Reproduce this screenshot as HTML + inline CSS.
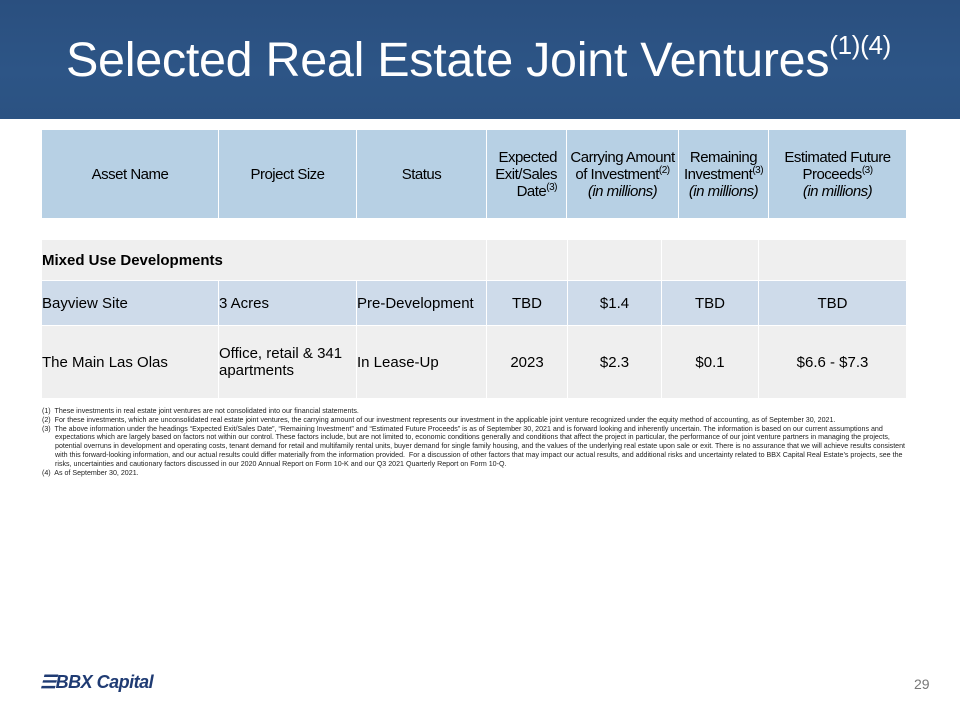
<!DOCTYPE html>
<html><head><meta charset="utf-8"><style>
*{margin:0;padding:0;box-sizing:border-box}
body{width:960px;height:720px;position:relative;background:#fff;font-family:"Liberation Sans",Arial,sans-serif;overflow:hidden;color:#000}
#ban{position:absolute;left:0;top:0;width:960px;height:119px;background:linear-gradient(180deg,#2a4f7f 0%,#2d5586 60%,#2b5282 100%)}
#ban h1{position:absolute;left:66px;top:30px;font-weight:normal;color:#fff;font-size:48.5px;letter-spacing:-0.3px;white-space:nowrap}
#ban h1 sup{font-size:26px;vertical-align:22px}
.c{position:absolute;display:flex;align-items:center;font-size:15px;line-height:17px}
.h{background:#b7d0e4;justify-content:center;text-align:center;white-space:nowrap;letter-spacing:-0.5px}
.g{background:#efefef}
.b{background:#cedbea}
.ctr{justify-content:center}
sup.s{font-size:10px;vertical-align:6px;line-height:0}
#fn{position:absolute;left:42px;top:407px;width:866px;font-size:7.1px;line-height:8.8px;color:#222}
#fn div{padding-left:13px;text-indent:-13px}
#logo{position:absolute;left:40px;top:672px;font-size:18px;font-weight:bold;font-style:italic;color:#1f3b73;letter-spacing:-0.5px}
#pg{position:absolute;left:914px;top:676px;font-size:14px;color:#777}
</style></head><body>
<div id="ban"><h1>Selected Real Estate Joint Ventures<sup>(1)(4)</sup></h1></div>

<div class="c h" style="left:42px;top:130px;width:176px;height:88px">Asset Name</div>
<div class="c h" style="left:219px;top:130px;width:137px;height:88px">Project Size</div>
<div class="c h" style="left:357px;top:130px;width:129px;height:88px">Status</div>
<div class="c h" style="left:487px;top:130px;width:79px;height:88px;justify-content:flex-end;text-align:right;padding-right:9px"><div>Expected<br>Exit/Sales<br>Date<sup class="s">(3)</sup></div></div>
<div class="c h" style="left:567px;top:130px;width:111px;height:88px"><div>Carrying Amount<br>of Investment<sup class="s">(2)</sup><br><i>(in millions)</i></div></div>
<div class="c h" style="left:679px;top:130px;width:89px;height:88px"><div>Remaining<br>Investment<sup class="s">(3)</sup><br><i>(in millions)</i></div></div>
<div class="c h" style="left:769px;top:130px;width:137px;height:88px"><div>Estimated Future<br>Proceeds<sup class="s">(3)</sup><br><i>(in millions)</i></div></div>

<div class="c g" style="left:42px;top:240px;width:444px;height:40px;font-weight:bold">Mixed Use Developments</div>
<div class="c g" style="left:487px;top:240px;width:80px;height:40px"></div>
<div class="c g" style="left:568px;top:240px;width:93px;height:40px"></div>
<div class="c g" style="left:662px;top:240px;width:96px;height:40px"></div>
<div class="c g" style="left:759px;top:240px;width:147px;height:40px"></div>

<div class="c b" style="left:42px;top:281px;width:176px;height:44px">Bayview Site</div>
<div class="c b" style="left:219px;top:281px;width:137px;height:44px">3 Acres</div>
<div class="c b" style="left:357px;top:281px;width:129px;height:44px">Pre-Development</div>
<div class="c b ctr" style="left:487px;top:281px;width:80px;height:44px">TBD</div>
<div class="c b ctr" style="left:568px;top:281px;width:93px;height:44px">$1.4</div>
<div class="c b ctr" style="left:662px;top:281px;width:96px;height:44px">TBD</div>
<div class="c b ctr" style="left:759px;top:281px;width:147px;height:44px">TBD</div>

<div class="c g" style="left:42px;top:326px;width:176px;height:72px">The Main Las Olas</div>
<div class="c g" style="left:219px;top:326px;width:137px;height:72px">Office, retail &amp; 341<br>apartments</div>
<div class="c g" style="left:357px;top:326px;width:129px;height:72px">In Lease-Up</div>
<div class="c g ctr" style="left:487px;top:326px;width:80px;height:72px">2023</div>
<div class="c g ctr" style="left:568px;top:326px;width:93px;height:72px">$2.3</div>
<div class="c g ctr" style="left:662px;top:326px;width:96px;height:72px">$0.1</div>
<div class="c g ctr" style="left:759px;top:326px;width:147px;height:72px">$6.6 - $7.3</div>

<div id="fn">
<div>(1)&nbsp; These investments in real estate joint ventures are not consolidated into our financial statements.</div>
<div>(2)&nbsp; For these investments, which are unconsolidated real estate joint ventures, the carrying amount of our investment represents our investment in the applicable joint venture recognized under the equity method of accounting, as of September 30, 2021.</div>
<div>(3)&nbsp; The above information under the headings “Expected Exit/Sales Date”, “Remaining Investment” and “Estimated Future Proceeds” is as of September 30, 2021 and is forward looking and inherently uncertain. The information is based on our current assumptions and expectations which are largely based on factors not within our control. These factors include, but are not limited to, economic conditions generally and conditions that affect the project in particular, the performance of our joint venture partners in managing the projects, potential overruns in development and operating costs, tenant demand for retail and multifamily rental units, buyer demand for single family housing, and the values of the underlying real estate upon sale or exit. There is no assurance that we will achieve results consistent with this forward-looking information, and our actual results could differ materially from the information provided.&nbsp; For a discussion of other factors that may impact our actual results, and additional risks and uncertainty related to BBX Capital Real Estate’s projects, see the risks, uncertainties and cautionary factors discussed in our 2020 Annual Report on Form 10-K and our Q3 2021 Quarterly Report on Form 10-Q.</div>
<div>(4)&nbsp; As of September 30, 2021.</div>
</div>

<div id="logo">☰BBX Capital</div>
<div id="pg">29</div>
</body></html>
